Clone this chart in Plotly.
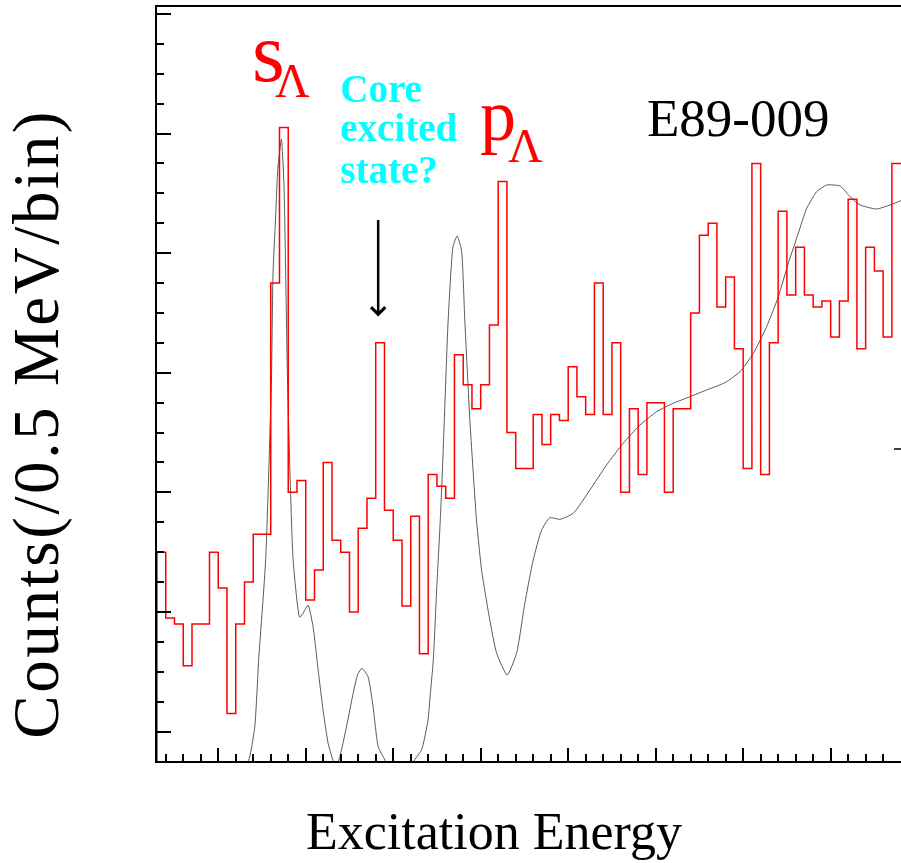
import plotly.graph_objects as go

# ---------------- data ----------------
# histogram: 0.5 MeV bins, first bin starts at x = 1.5
bin_start = 1.5
bin_width = 0.5
counts = [30, 19, 18, 11, 18, 18, 30, 24, 3, 18,
          25, 33, 33, 75, 101, 40, 42, 22, 27, 45,
          32, 30, 20, 34, 39, 65, 37, 32, 21, 36,
          13, 43, 41, 39, 63, 58, 54, 58, 68, 92,
          50, 44, 44, 53, 48, 53, 52, 61, 56, 53,
          75, 53, 65, 40, 54, 43, 55, 55, 40, 54,
          54, 70, 83, 85, 71, 76, 64, 44, 95, 43,
          65, 87, 73, 81, 73, 71, 72, 66, 72, 89,
          64, 81, 77, 66, 95, 95]

# theoretical (smooth) spectrum
theory_x = [6.0, 6.40, 6.80, 7.09, 7.31, 7.71, 8.04, 8.13, 8.27, 8.40, 8.61,
            8.76, 8.96, 9.28, 9.66, 9.89, 10.13, 10.42, 10.71, 10.99, 11.28,
            11.56, 11.76, 11.95, 12.33, 12.71, 12.98, 13.22, 13.56, 13.85, 14.14,
            14.52, 14.80, 15.95, 16.14, 16.62, 16.99, 17.09, 17.29, 17.49, 17.69,
            17.85, 18.14, 18.42, 18.65, 18.90, 19.09, 19.38, 19.76, 20.05, 20.52,
            20.91, 21.51, 22.05, 22.52, 23.00, 23.48, 23.95, 24.52, 25.29, 26.24,
            27.19, 28.14, 29.10, 30.05, 31.00, 31.96, 32.91, 33.96, 34.82, 35.58,
            36.34, 37.01, 37.58, 38.15, 38.63, 39.20, 39.77, 40.53, 41.11, 41.68,
            42.63, 43.39, 44.02, 44.82]
theory_y = [-12.0, -7.28, -4.21, 0.80, 11.96, 28.69, 58.79, 76.63, 85.55, 93.91, 99.05,
            91.12, 58.79, 28.69, 19.10, 19.99, 21.16, 17.53, 10.29, 3.60, -1.97,
            -4.77, -5.60, -4.21, 0.80, 6.39, 9.62, 10.57, 9.17, 4.15, -2.54,
            -4.77, -7.28, -7.28, -5.10, -3.09, 1.92, 5.27, 11.96, 24.17, 35.37,
            46.58, 68.82, 81.08, 82.87, 80.53, 68.82, 52.10, 35.37, 27.01, 18.65,
            13.08, 9.45, 13.08, 21.44, 28.68, 33.70, 35.76, 35.49, 36.49, 40.39,
            44.57, 48.20, 51.26, 53.49, 54.89, 56.00, 57.12, 58.34, 60.18, 63.25,
            67.70, 72.72, 78.31, 83.33, 87.51, 90.28, 91.40, 91.24, 89.45, 88.06,
            87.39, 88.06, 88.78, 89.56]

x_range = [1.5, 44.02]
y_range = [-4.93, 121.17]

# ---------------- build ----------------
edges = [bin_start + bin_width * i for i in range(len(counts) + 1)]
hx = [edges[0]] + edges
hy = [y_range[0]] + counts + [counts[-1]]

fig = go.Figure()
fig.add_trace(go.Scatter(x=theory_x, y=theory_y, mode="lines",
                         line=dict(color="#5a5a5a", width=1, shape="spline", smoothing=0.5),
                         hoverinfo="skip", showlegend=False))
fig.add_trace(go.Scatter(x=hx, y=hy, mode="lines", line_shape="hv",
                         line=dict(color="#ff0000", width=1.5),
                         hoverinfo="skip", showlegend=False))

axis_common = dict(showgrid=False, zeroline=False, showticklabels=False,
                   showline=True, linecolor="black", linewidth=2,
                   ticks="inside", tickcolor="black", tickwidth=1.5)

fig.update_xaxes(range=x_range, mirror=True, tick0=0, dtick=5, ticklen=13,
                 minor=dict(ticks="inside", dtick=1, tick0=0, ticklen=7,
                            tickcolor="black", tickwidth=1.5),
                 **axis_common)
fig.update_yaxes(range=y_range, tick0=0, dtick=20, ticklen=14,
                 minor=dict(ticks="inside", dtick=5, tick0=0, ticklen=7,
                            tickcolor="black", tickwidth=1.5),
                 **axis_common)

serif = "Liberation Serif, Times New Roman, serif"

def px2paper(px, py):
    return (px - 157.3) / 743.7, (761 - py) / 754

anns = []
def add_text(text, px, py, size, color, xanchor="left", bold=False, angle=0):
    x, y = px2paper(px, py)
    anns.append(dict(text=("<b>%s</b>" % text) if bold else text,
                     x=x, y=y, xref="paper", yref="paper",
                     xanchor=xanchor, yanchor="middle", showarrow=False,
                     textangle=angle,
                     font=dict(family=serif, size=size, color=color)))

add_text("s", 250, 53, 84, "#ff0000")
add_text("Λ", 273, 80, 48, "#ff0000")
add_text("p", 478, 116, 72, "#ff0000")
add_text("Λ", 506, 145, 48, "#ff0000")
add_text("Core", 338, 88, 39, "#00ffff", bold=True)
add_text("excited", 338, 128, 39, "#00ffff", bold=True)
add_text("state?", 338, 169, 39, "#00ffff", bold=True)
add_text("E89-009", 739, 118, 53, "black", xanchor="center")
add_text("Excitation Energy", 494, 831, 52, "black", xanchor="center")
add_text("Counts(/0.5 MeV/bin)", 36, 424, 65, "black", xanchor="center", angle=-90)

# arrow pointing at the core-excited candidate
anns.append(dict(x=14.14, y=69.4, xref="x", yref="y", ax=0, ay=-98,
                 axref="pixel", ayref="pixel", text="", showarrow=True,
                 arrowhead=4, arrowsize=1.1, arrowwidth=2.5, arrowcolor="black"))

# small tick fragment of the neighbouring frame at the right edge
dx0, dy0 = px2paper(894, 449)
shapes = [dict(type="line", xref="paper", yref="paper", x0=dx0, x1=1.0,
               y0=dy0, y1=dy0, line=dict(color="black", width=1.5))]

fig.update_layout(width=901, height=863, margin=dict(l=157, r=0, t=7, b=102),
                  paper_bgcolor="white", plot_bgcolor="white",
                  annotations=anns, shapes=shapes, showlegend=False)

# the original y title is set with wide letter spacing
post = """
var gd = document.getElementById('{plot_id}');
gd.querySelectorAll('text.annotation-text').forEach(function(t){
  if (t.textContent.indexOf('Counts') === 0) { t.style.letterSpacing = '2.6px'; }
});
"""

fig.write_html("out.html", post_script=post)
